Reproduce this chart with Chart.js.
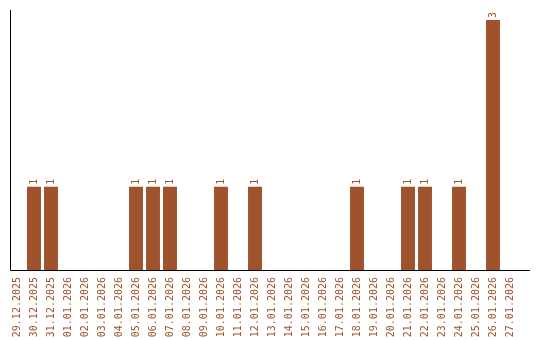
<!DOCTYPE html>
<html>
<head>
<meta charset="utf-8">
<script src="https://cdn.jsdelivr.net/npm/chart.js@4"></script>
<style>
  html, body { margin: 0; padding: 0; background: #fff; }
  #wrap { width: 540px; height: 340px; }
</style>
</head>
<body>
<div id="wrap"><canvas id="c" width="540" height="340"></canvas></div>
<script>
const days = [
  "29.12.2025", "30.12.2025", "31.12.2025", "01.01.2026", "02.01.2026",
  "03.01.2026", "04.01.2026", "05.01.2026", "06.01.2026", "07.01.2026",
  "08.01.2026", "09.01.2026", "10.01.2026", "11.01.2026", "12.01.2026",
  "13.01.2026", "14.01.2026", "15.01.2026", "16.01.2026", "17.01.2026",
  "18.01.2026", "19.01.2026", "20.01.2026", "21.01.2026", "22.01.2026",
  "23.01.2026", "24.01.2026", "25.01.2026", "26.01.2026", "27.01.2026"
];
const counts = [0, 1, 1, 0, 0, 0, 0, 1, 1, 1, 0, 0, 1, 0, 1, 0, 0, 0, 0, 0, 1, 0, 0, 1, 1, 0, 1, 0, 3, 0];

const brown = "#a0522d";
const mono = "'DejaVu Sans Mono', monospace";

// axis lines + rotated value labels
const extras = {
  id: "extras",
  afterDatasetsDraw(chart) {
    const ctx = chart.ctx;
    const area = chart.chartArea;
    const x = chart.scales.x, y = chart.scales.y;
    ctx.save();
    ctx.strokeStyle = "#000";
    ctx.lineWidth = 1;
    ctx.beginPath();
    ctx.moveTo(10.5, area.top);
    ctx.lineTo(10.5, area.bottom + 0.5);
    ctx.lineTo(530, area.bottom + 0.5);
    ctx.stroke();

    ctx.fillStyle = brown;
    ctx.font = "10px " + mono;
    ctx.textAlign = "left";
    ctx.textBaseline = "middle";
    counts.forEach((v, i) => {
      if (!v) return;
      const px = x.getPixelForValue(i);
      const py = y.getPixelForValue(v);
      ctx.save();
      ctx.translate(px, py - 2);
      ctx.rotate(-Math.PI / 2);
      ctx.fillText(String(v), 0, 0);
      ctx.restore();
    });
    ctx.restore();
  }
};

new Chart(document.getElementById("c"), {
  type: "bar",
  data: {
    labels: days,
    datasets: [{
      data: counts,
      backgroundColor: brown,
      barPercentage: 0.82,
      categoryPercentage: 1
    }]
  },
  options: {
    responsive: false,
    animation: false,
    layout: { padding: { left: 8.5, right: 21.5, top: 10, bottom: 0 } },
    plugins: { legend: { display: false }, tooltip: { enabled: false } },
    scales: {
      x: {
        grid: { display: false, drawTicks: false },
        border: { display: false },
        ticks: {
          color: brown,
          font: { family: mono, size: 10 },
          minRotation: 90,
          maxRotation: 90,
          autoSkip: false,
          padding: 7
        },
        afterFit(scale) { scale.height = 70; }
      },
      y: {
        display: false,
        min: 0,
        max: 3.12
      }
    }
  },
  plugins: [extras]
});
</script>
</body>
</html>
